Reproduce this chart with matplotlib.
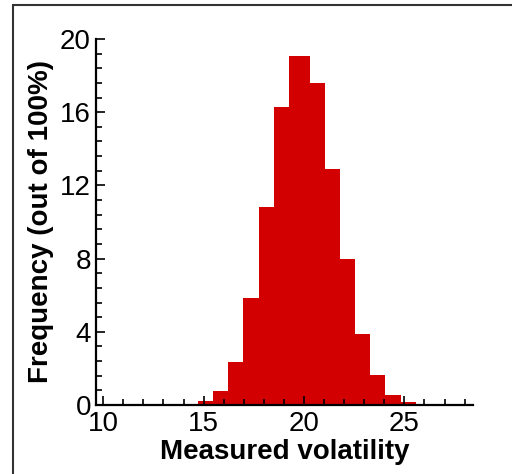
import numpy as np
import matplotlib
matplotlib.use("Agg")
import matplotlib.pyplot as plt
from matplotlib.ticker import MultipleLocator
from matplotlib.patches import Rectangle

# histogram bin edges and frequency (%)
bin_edges = [14.74, 15.49, 16.23, 16.98, 17.76, 18.51, 19.25, 20.30,
             21.04, 21.79, 22.54, 23.28, 24.03, 24.81, 25.57]
freq = [0.2, 0.78, 2.37, 5.86, 10.82, 16.28, 19.07, 17.6,
        12.9, 7.98, 3.9, 1.64, 0.53, 0.16]

x_ticks = [10, 15, 20, 25]
y_ticks = [0, 4, 8, 12, 16, 20]

plt.rcParams['font.family'] = ['Liberation Sans', 'DejaVu Sans']

fig = plt.figure(figsize=(5.12, 4.74), dpi=100)
ax = fig.add_axes([0.187, 0.1456, 0.737, 0.7721])

edges = np.array(bin_edges)
ax.bar(edges[:-1], freq, width=np.diff(edges), align="edge",
       color="#d20000", edgecolor="none", zorder=1)

ax.set_xlim(9.63, 28.42)
ax.set_ylim(0, 20)
ax.set_xticks(x_ticks)
ax.set_yticks(y_ticks)
ax.xaxis.set_minor_locator(MultipleLocator(1))
ax.yaxis.set_minor_locator(MultipleLocator(0.8))

for s in ["top", "right"]:
    ax.spines[s].set_visible(False)
for s in ["left", "bottom"]:
    ax.spines[s].set_linewidth(1.6)
    ax.spines[s].set_zorder(3)

ax.tick_params(which="major", direction="in", length=6.5, width=1.2,
               labelsize=20, pad=3.5)
ax.tick_params(which="minor", direction="in", length=4, width=1.2)
ax.tick_params(axis="x", which="major", pad=4.5)

ax.set_xlabel("Measured volatility", fontsize=20, fontweight="bold", labelpad=1)
ax.set_ylabel("Frequency (out of 100%)", fontsize=20, fontweight="bold", labelpad=4)

# frame around the figure (only top and left visible)
fig.add_artist(Rectangle((13 / 512, -0.1), 1.2, 1.1 - 5 / 474,
                         transform=fig.transFigure, fill=False,
                         edgecolor="#333333", linewidth=1.5))

fig.savefig("out.png", dpi=100)
